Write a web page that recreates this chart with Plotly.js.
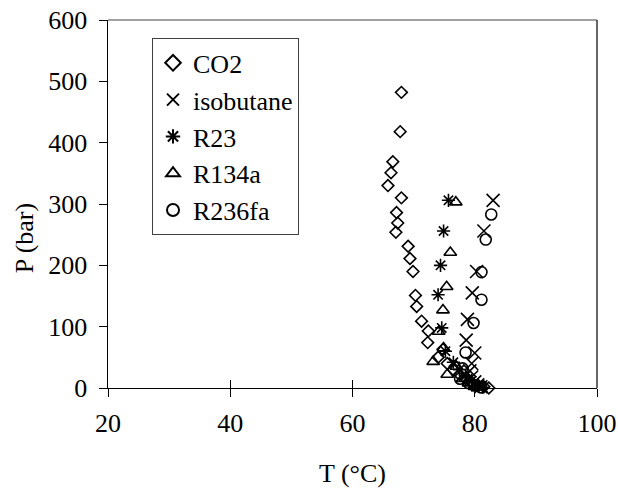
<!DOCTYPE html>
<html>
<head>
<meta charset="utf-8">
<script src="https://cdn.plot.ly/plotly-3.0.1.min.js"></script>
<style>html,body{margin:0;padding:0;background:#fff;}#chart{width:618px;height:488px;}</style>
</head>
<body>
<div id="chart"></div>
<script>
// Data (T in °C, P in bar)
var seriesNames = ["CO2", "isobutane", "R23", "R134a", "R236fa"];

var co2T = [68.0, 67.8, 66.6, 66.3, 65.8, 68.0, 67.2, 67.4, 67.1, 69.1, 69.4, 69.9, 70.3, 70.5, 71.3, 72.4, 72.3, 74.8, 74.0, 75.5, 76.5, 77.5, 78.5, 79.5, 80.5, 81.5, 82.3];
var co2P = [482, 418, 369, 351, 330, 310, 286, 269, 254, 231, 211, 190, 151, 133, 109, 93, 74, 63, 50, 40, 30, 22, 15, 9, 5, 2, 0];

var isoT = [83.0, 81.5, 80.3, 79.6, 78.8, 78.6, 80.0, 79.5, 79.2, 79.5, 80.0, 80.5, 81.0];
var isoP = [306, 256, 190, 155, 112, 78, 57, 40, 28, 18, 10, 5, 2];

var r23T = [75.7, 74.9, 74.4, 74.0, 74.6, 75.2, 76.5, 77.5, 78.5, 79.5, 80.5, 81.3];
var r23P = [306, 256, 200, 152, 98, 60, 42, 30, 20, 12, 5, 1];

var r134T = [76.9, 76.0, 75.4, 74.8, 74.1, 73.2, 74.9, 75.5, 77.0, 78.0, 79.0, 80.0];
var r134P = [303, 221, 165, 127, 92, 43, 65, 22, 35, 15, 8, 2];

var r236T = [82.7, 81.8, 81.1, 81.1, 79.8, 78.5, 78.0, 77.6, 79.0, 80.0, 81.0];
var r236P = [283, 242, 189, 144, 106, 58, 32, 15, 8, 4, 1];

var xTicks = [20, 40, 60, 80, 100];
var yTicks = [0, 100, 200, 300, 400, 500, 600];

var FONT = "'Liberation Serif', 'Times New Roman', Times, serif";
var FS = 26;

function mk(name, x, y, symbol, size) {
  return {
    type: "scatter", mode: "markers", name: name, x: x, y: y,
    marker: {symbol: symbol, size: size, color: "#000",
             line: {color: "#000", width: 1.6}},
    cliponaxis: false
  };
}

var data = [
  mk(seriesNames[0], co2T, co2P, "diamond-open", 9),
  mk(seriesNames[1], isoT, isoP, "x-thin-open", 13),
  mk(seriesNames[2], r23T, r23P, "asterisk-open", 11),
  mk(seriesNames[3], r134T, r134P, "triangle-up-open", 11),
  mk(seriesNames[4], r236T, r236P, "circle-open", 11)
];

var layout = {
  width: 618, height: 488,
  margin: {l: 108, r: 21, t: 20, b: 100},
  paper_bgcolor: "#fff", plot_bgcolor: "#fff",
  font: {family: FONT, size: FS, color: "#000"},
  showlegend: true,
  legend: {
    x: 0.09, y: 0.95, xanchor: "left", yanchor: "top",
    bgcolor: "#fff", bordercolor: "#404040", borderwidth: 1,
    font: {family: FONT, size: FS, color: "#000"},
    traceorder: "normal", tracegroupgap: 0, itemsizing: "constant", itemwidth: 30
  },
  xaxis: {
    range: [20, 100], tickvals: xTicks, ticktext: xTicks.map(String),
    ticks: "outside", ticklen: 8, tickwidth: 1, tickcolor: "#000",
    showline: true, linecolor: "#000", linewidth: 1,
    showgrid: false, zeroline: false, ticklabelstandoff: 4,
    tickfont: {family: FONT, size: FS, color: "#000"},
    title: {text: "T (°C)", font: {family: FONT, size: FS, color: "#000"}, standoff: 38}
  },
  xaxis2: {
    overlaying: "x", anchor: "y", range: [20, 100], tickvals: xTicks,
    ticks: "inside", ticklen: 8, tickwidth: 1, tickcolor: "#000",
    showticklabels: false, showline: false, showgrid: false, zeroline: false
  },
  yaxis: {
    range: [0, 600], tickvals: yTicks, ticktext: yTicks.map(function(v){ return v + "\u00a0"; }),
    ticks: "outside", ticklen: 8, tickwidth: 1, tickcolor: "#000",
    showline: true, linecolor: "#000", linewidth: 1,
    showgrid: false, zeroline: false,
    tickfont: {family: FONT, size: FS, color: "#000"}
  },
  shapes: [
    {type: "line", xref: "paper", yref: "paper", x0: 0, x1: 1, y0: 1, y1: 1,
     line: {color: "#808080", width: 1.5}},
    {type: "line", xref: "paper", yref: "paper", x0: 1, x1: 1, y0: 0, y1: 1,
     line: {color: "#333", width: 1.5}}
  ],
  annotations: [
    {text: "P (bar)", xref: "paper", yref: "paper", x: -0.17, y: 0.409,
     textangle: -90, showarrow: false, xanchor: "center", yanchor: "middle",
     font: {family: FONT, size: FS, color: "#000"}}
  ]
};

data.push({type: "scatter", x: [], y: [], xaxis: "x2", yaxis: "y", showlegend: false, hoverinfo: "skip"});

Plotly.newPlot("chart", data, layout, {staticPlot: true, displayModeBar: false});
</script>
</body>
</html>
